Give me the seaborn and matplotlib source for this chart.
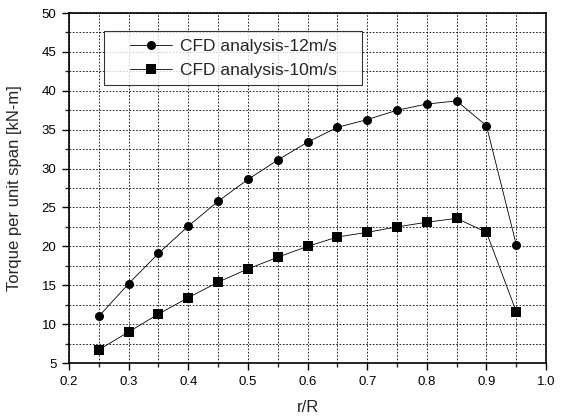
import numpy as np
import pandas as pd
import matplotlib
matplotlib.use("Agg")
import matplotlib.pyplot as plt
import seaborn as sns
from matplotlib.ticker import MultipleLocator
from matplotlib.legend_handler import HandlerLine2D

r_R = [0.25, 0.30, 0.35, 0.40, 0.45, 0.50, 0.55, 0.60, 0.65, 0.70, 0.75, 0.80, 0.85, 0.90, 0.95]
torque_12 = [11.0, 15.2, 19.1, 22.6, 25.8, 28.6, 31.1, 33.4, 35.3, 36.3, 37.5, 38.3, 38.7, 35.5, 20.2]
torque_10 = [6.7, 9.0, 11.3, 13.4, 15.4, 17.1, 18.6, 20.0, 21.2, 21.8, 22.5, 23.1, 23.6, 21.8, 11.6]
labels = ["CFD analysis-12m/s", "CFD analysis-10m/s"]

df = pd.DataFrame({
    "r/R": r_R * 2,
    "torque": torque_12 + torque_10,
    "series": [labels[0]] * len(r_R) + [labels[1]] * len(r_R),
})

sns.set_style("white")
plt.rcParams['font.family'] = ['Liberation Sans', 'DejaVu Sans']

fig = plt.figure(figsize=(5.63, 4.20), dpi=100)
ax = fig.add_axes([0.1226, 0.1357, 0.8474, 0.8333])

sns.lineplot(data=df, x="r/R", y="torque", hue="series", style="series",
             markers={labels[0]: "o", labels[1]: "s"}, dashes=False,
             palette={labels[0]: "black", labels[1]: "black"},
             markersize=6.5, linewidth=0.6, markeredgewidth=0, ax=ax)

ax.set_xlim(0.2, 1.0)
ax.set_ylim(5, 50)
ax.xaxis.set_major_locator(MultipleLocator(0.1))
ax.xaxis.set_minor_locator(MultipleLocator(0.05))
ax.yaxis.set_major_locator(MultipleLocator(5))
ax.yaxis.set_minor_locator(MultipleLocator(2.5))
ax.set_xticklabels([f"{v:.1f}" for v in ax.get_xticks()])
ax.grid(True, which="both", color="black", linestyle=(0, (2, 2)), linewidth=0.6)
ax.set_axisbelow(True)
for s in ax.spines.values():
    s.set_color("black")
    s.set_linewidth(1.2)
ax.tick_params(which="major", direction="out", length=5, width=1, colors="black",
               labelsize=9.5, pad=4, bottom=True, left=True, top=False, right=False)
ax.tick_params(which="minor", direction="out", length=3, width=1,
               bottom=True, left=True, top=False, right=False)
ax.set_xlabel("r/R", fontsize=12, labelpad=9)
ax.set_ylabel("Torque per unit span [kN-m]", fontsize=12, labelpad=14)

handles, lab = ax.get_legend_handles_labels()
leg = ax.legend(handles, lab, loc="upper left",
                bbox_to_anchor=(0.0734, 0.5, 0.541, 0.449), mode="expand",
                borderaxespad=0, fontsize=12.5, frameon=True, fancybox=False,
                edgecolor="black", handlelength=3.46, handletextpad=0.46,
                borderpad=0.45, labelspacing=0.5,
                handler_map={h: HandlerLine2D(xpad=1.04) for h in handles})
leg.get_frame().set_linewidth(0.8)
for h in leg.legend_handles:
    h.set_linewidth(0.6)

fig.savefig("out.png", dpi=100)
